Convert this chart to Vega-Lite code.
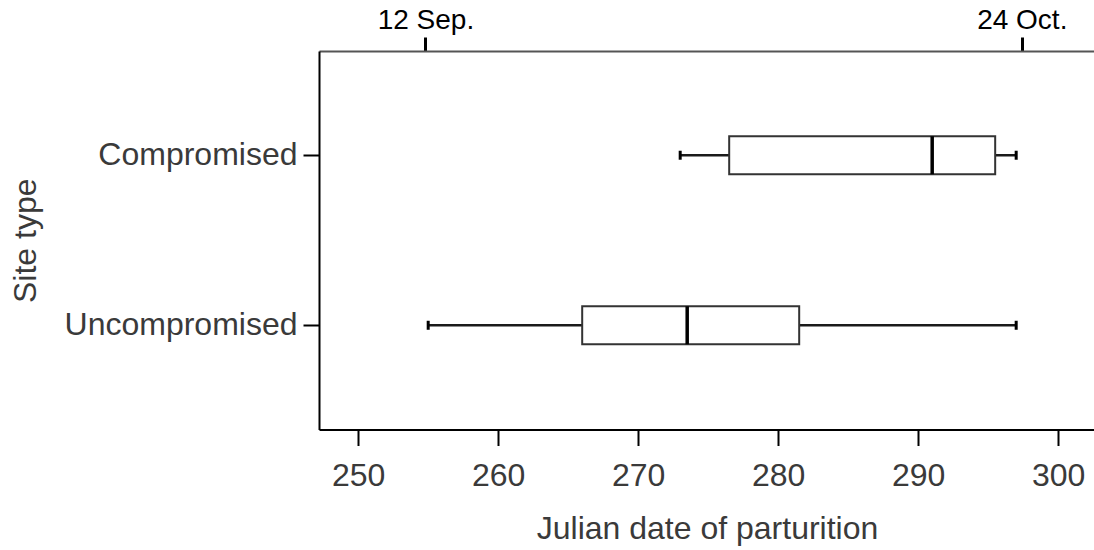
{
  "$schema": "https://vega.github.io/schema/vega-lite/v6.json",
  "width": 776,
  "height": 378.5,
  "autosize": {"type": "none"},
  "padding": {"left": 319, "top": 51, "right": 0, "bottom": 121},
  "background": "white",
  "config": {
    "view": {"stroke": null},
    "font": "Liberation Sans",
    "axis": {
      "grid": false,
      "labelFont": "Liberation Sans",
      "titleFont": "Liberation Sans",
      "titleFontWeight": "normal",
      "labelColor": "#3a3a3a",
      "titleColor": "#3a3a3a",
      "domainColor": "#000000",
      "tickColor": "#000000",
      "labelLimit": 0
    }
  },
  "datasets": {
    "boxes": [
      {"site": "Compromised", "lo": 273, "q1": 276.5, "med": 291, "q3": 295.5, "hi": 297},
      {"site": "Uncompromised", "lo": 255, "q1": 266, "med": 273.5, "q3": 281.5, "hi": 297}
    ],
    "dates": [
      {"day": 254.8, "label": "12 Sep."},
      {"day": 297.4, "label": "24 Oct."}
    ]
  },
  "resolve": {"scale": {"x": "shared"}, "axis": {"x": "independent"}},
  "layer": [
    {
      "data": {"name": "boxes"},
      "layer": [
        {
          "mark": {"type": "rule", "color": "#1a1a1a", "strokeWidth": 2.5},
          "encoding": {
            "x": {
              "field": "lo", "type": "quantitative",
              "scale": {"domain": [247.2, 302.63], "nice": false, "zero": false},
              "axis": {
                "orient": "bottom",
                "title": "Julian date of parturition",
                "values": [250, 260, 270, 280, 290, 300],
                "domainWidth": 2,
                "tickWidth": 2,
                "tickSize": 16,
                "labelFontSize": 32,
                "labelPadding": 15,
                "titleFontSize": 32,
                "titlePadding": 22
              }
            },
            "x2": {"field": "hi"},
            "y": {
              "field": "site", "type": "nominal",
              "sort": ["Compromised", "Uncompromised"],
              "scale": {"type": "band", "paddingInner": 0, "paddingOuter": 0.113},
              "axis": {
                "title": "Site type",
                "domainWidth": 2,
                "tickWidth": 2,
                "tickSize": 16,
                "labelFontSize": 32,
                "labelPadding": 6,
                "titleFontSize": 32,
                "titlePadding": 77
              }
            }
          }
        },
        {
          "mark": {"type": "bar", "fill": "white", "stroke": "#333333", "strokeWidth": 2, "size": 38},
          "encoding": {
            "x": {"field": "q1", "type": "quantitative"},
            "x2": {"field": "q3"},
            "y": {"field": "site", "type": "nominal", "sort": ["Compromised", "Uncompromised"]}
          }
        },
        {
          "mark": {"type": "tick", "color": "#000000", "thickness": 3.5, "size": 38, "opacity": 1},
          "encoding": {
            "x": {"field": "med", "type": "quantitative"},
            "y": {"field": "site", "type": "nominal", "sort": ["Compromised", "Uncompromised"]}
          }
        },
        {
          "mark": {"type": "tick", "color": "#000000", "thickness": 3, "size": 9, "opacity": 1},
          "encoding": {
            "x": {"field": "lo", "type": "quantitative"},
            "y": {"field": "site", "type": "nominal", "sort": ["Compromised", "Uncompromised"]}
          }
        },
        {
          "mark": {"type": "tick", "color": "#000000", "thickness": 3, "size": 9, "opacity": 1},
          "encoding": {
            "x": {"field": "hi", "type": "quantitative"},
            "y": {"field": "site", "type": "nominal", "sort": ["Compromised", "Uncompromised"]}
          }
        }
      ]
    },
    {
      "data": {"name": "dates"},
      "mark": {"type": "rule", "opacity": 0},
      "encoding": {
        "x": {
          "field": "day", "type": "quantitative",
          "axis": {
            "orient": "top",
            "title": null,
            "values": [254.8, 297.4],
            "labelExpr": "datum.value < 276 ? '12 Sep.' : '24 Oct.'",
            "domainColor": "#555555",
            "domainWidth": 2,
            "tickWidth": 3,
            "tickSize": 14,
            "labelFontSize": 28,
            "labelColor": "#000000",
            "labelPadding": 3,
            "labelDx": 4
          }
        }
      }
    }
  ]
}
